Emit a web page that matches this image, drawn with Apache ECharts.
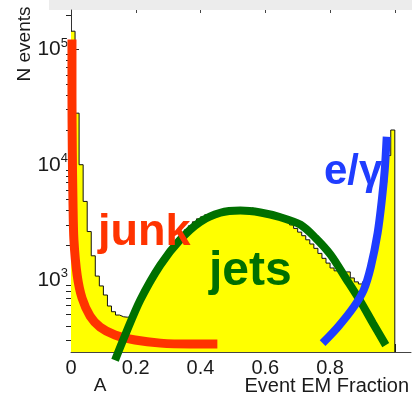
<!DOCTYPE html>
<html><head><meta charset="utf-8">
<script src="https://cdn.jsdelivr.net/npm/echarts@6/dist/echarts.min.js"></script>
<style>html,body{margin:0;padding:0;background:#fff}#c{width:412px;height:395px}</style>
</head><body><div id="c"></div>
<script>
// Histogram: 80 bins of width 0.0125 over [0,1]
const binWidth = 0.0125;
const histCounts = [
  144000, 28000, 10000, 4800, 2630, 1620, 1080, 887, 740, 594,
  530, 496, 479, 475, 480, 527, 631, 726, 851, 980,
  1127, 1297, 1462, 1648, 1860, 2056, 2274, 2512, 2722, 2950,
  3194, 3390, 3530, 3675, 3750, 3830, 3900, 3980, 3980, 3900,
  3900, 4065, 3980, 4065, 4230, 3980, 3980, 3980, 3830, 3750,
  3600, 3530, 3300, 3150, 3000, 2800, 2600, 2420, 2230, 2050,
  1880, 1700, 1540, 1400, 1270, 1200, 1160, 1174, 1174, 1041,
  962, 923, 962, 1105, 1600, 2600, 4000, 7000, 12000, 20000
];
// Hand-drawn annotation curves (x = EM fraction, y = N events)
const junkX = [0.003, 0.003, 0.004, 0.006, 0.009, 0.019, 0.034, 0.059, 0.090, 0.136, 0.198, 0.276, 0.368, 0.452];
const junkY = [122000, 40000, 13500, 4960, 2230, 1100, 697, 486, 390, 333, 301, 283, 278, 278];
const jetsX = [0.136, 0.167, 0.214, 0.276, 0.337, 0.399, 0.461, 0.523, 0.585, 0.647, 0.709, 0.755, 0.802, 0.848, 0.895, 0.932, 0.972];
const jetsY = [201, 331, 670, 1350, 2230, 3190, 3830, 4000, 3850, 3500, 3010, 2320, 1650, 1040, 644, 423, 272];
const egX = [0.777, 0.824, 0.873, 0.904, 0.926, 0.947, 0.960, 0.969, 0.975];
const egY = [283, 390, 582, 818, 1300, 2560, 4960, 9060, 17500];
// Axis ticks / labels
const xLabels = [0, 0.2, 0.4, 0.6, 0.8, 1];
const yMajor = [1000, 10000, 100000];
const yMinor = [300, 400, 500, 600, 700, 800, 900, 2000, 3000, 4000, 5000, 6000, 7000, 8000, 9000,
  20000, 30000, 40000, 50000, 60000, 70000, 80000, 90000, 200000];
const texts = { junk: 'junk', jets: 'jets', eg: 'e/\u03b3', yName: 'N events', xName: 'Event EM Fraction', xLetter: 'A' };

const yMin = 237, yMax = 220000;
const FONT = '"Liberation Sans", Arial, Helvetica, sans-serif';

const histData = histCounts.map((v, i) => [i * binWidth, v]);
histData.push([1, histCounts[histCounts.length - 1]]);
histData.push([1, yMin]);

const zip = (a, b) => a.map((v, i) => [v, b[i]]);

const chart = echarts.init(document.getElementById('c'), null, { renderer: 'canvas' });
const yCommon = { type: 'log', logBase: 10, min: yMin, max: yMax, splitLine: { show: false } };
chart.setOption({
  animation: false,
  backgroundColor: '#fff',
  grid: { left: 71, right: 1, top: 10, bottom: 43 },
  xAxis: [{
    type: 'value', min: 0, max: 1.05, interval: 0.2,
    axisLine: { show: true, lineStyle: { color: '#444', width: 1 } },
    axisTick: { show: true, inside: true, length: 8, lineStyle: { color: '#222' }, customValues: xLabels },
    minorTick: { show: true, splitNumber: 4, length: 5, lineStyle: { color: '#222' } },
    axisLabel: { customValues: xLabels, showMaxLabel: false, margin: 6, color: '#1a1a1a', fontSize: 20, fontFamily: FONT,
      formatter: v => String(+v.toFixed(1)) },
    splitLine: { show: false }
  }, {
    type: 'value', position: 'top', min: 0, max: 1.05, interval: 0.2,
    axisLine: { show: false },
    axisTick: { show: true, inside: true, length: 3, lineStyle: { color: '#444' }, customValues: [0.2, 0.4, 0.6, 0.8, 1] },
    axisLabel: { show: false }, splitLine: { show: false }
  }],
  yAxis: [Object.assign({}, yCommon, {
    axisLine: { show: true, lineStyle: { color: '#333', width: 1 } },
    axisTick: { show: true, inside: true, length: 8, lineStyle: { color: '#222' }, customValues: yMajor },
    axisLabel: {
      customValues: yMajor, margin: 3, color: '#1a1a1a', fontSize: 21, fontFamily: FONT,
      formatter: v => '10{sup|' + Math.round(Math.log10(v)) + '}',
      rich: { sup: { fontSize: 13, fontFamily: FONT, color: '#1a1a1a', padding: [0, 0, 13, 0] } }
    }
  }), Object.assign({}, yCommon, {
    axisLine: { show: false },
    axisTick: { show: true, inside: true, length: 5, lineStyle: { color: '#222' }, customValues: yMinor },
    axisLabel: { show: false }
  })],
  series: [{
    type: 'line', data: histData, step: 'end', symbol: 'none', z: 1,
    lineStyle: { color: '#111', width: 1 },
    areaStyle: { color: '#ffff00', opacity: 1, origin: 'start' }
  }, {
    type: 'line', data: zip(junkX, junkY), smooth: 0.3, symbol: 'none', clip: false, z: 3,
    lineStyle: { color: '#ff3300', width: 9 }
  }, {
    type: 'line', data: zip(jetsX, jetsY), smooth: 0.3, symbol: 'none', clip: false, z: 4,
    lineStyle: { color: '#007000', width: 8 }
  }, {
    type: 'line', data: zip(egX, egY), smooth: 0.3, symbol: 'none', clip: false, z: 5,
    lineStyle: { color: '#1f3dff', width: 8 }
  }],
  graphic: [
    { type: 'rect', shape: { x: 49, y: 0, width: 363, height: 10 }, style: { fill: '#ececec' }, z: 0 },
    { type: 'text', x: 25, y: 44, rotation: Math.PI / 2, style: { text: texts.yName, font: '19px ' + FONT, fill: '#1a1a1a', align: 'center', verticalAlign: 'middle' } },
    { type: 'text', x: 100, y: 386, style: { text: texts.xLetter, font: '19px ' + FONT, fill: '#1a1a1a', align: 'center', verticalAlign: 'middle' } },
    { type: 'text', x: 409, y: 386, style: { text: texts.xName, font: '20px ' + FONT, fill: '#1a1a1a', align: 'right', verticalAlign: 'middle' } },
    { type: 'text', x: 98, y: 233, z: 10, style: { text: texts.junk, font: 'bold 45px ' + FONT, fill: '#ff3300', align: 'left', verticalAlign: 'middle' } },
    { type: 'text', x: 209, y: 272, z: 10, style: { text: texts.jets, font: 'bold 48px ' + FONT, fill: '#007000', align: 'left', verticalAlign: 'middle' } },
    { type: 'text', x: 324, y: 172, z: 10, style: { text: texts.eg, font: 'bold 42px ' + FONT, fill: '#1f3dff', align: 'left', verticalAlign: 'middle' } }
  ]
});
</script>
</body></html>
